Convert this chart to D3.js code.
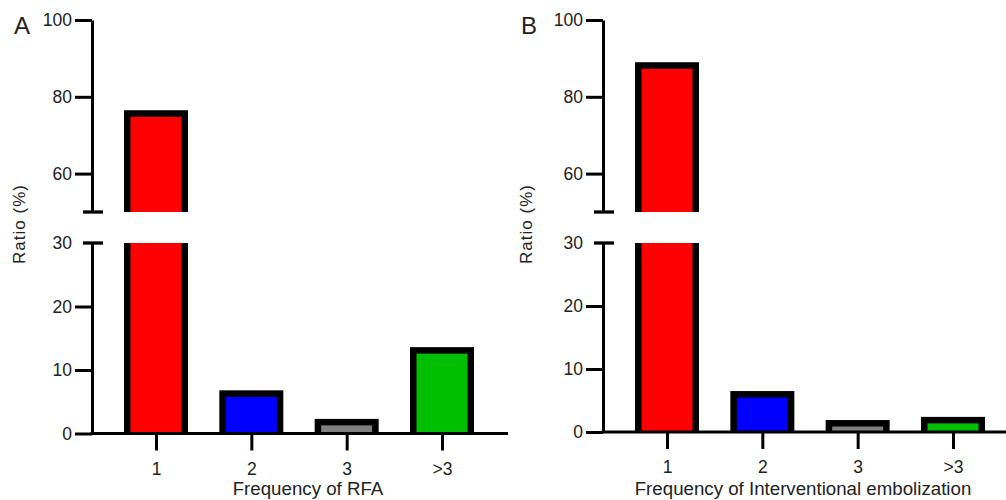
<!DOCTYPE html>
<html>
<head>
<meta charset="utf-8">
<script src="https://cdn.jsdelivr.net/npm/d3@7"></script>
<style>
  html, body { margin: 0; padding: 0; background: #fff; }
  svg { display: block; font-family: "Liberation Sans", Arial, Helvetica, sans-serif; }
</style>
</head>
<body>
<svg id="chart" width="1006" height="500"></svg>
<script>
// ---- data ----
const categories = ["1", "2", "3", ">3"];
const rfaValues = [76.5, 6.8, 2.3, 13.6];
const embolizationValues = [89.0, 6.5, 1.9, 2.4];
const upperTicks = [60, 80, 100];
const lowerTicks = [0, 10, 20, 30];
const barColors = ["#ff0000", "#0000ff", "#808080", "#00bf00"];
const panelLetters = ["A", "B"];
const xTitles = ["Frequency of RFA", "Frequency of Interventional embolization"];
const yTitle = "Ratio (%)";

// ---- layout ----
const svg = d3.select("#chart");
const layouts = [
  { ox: 92, base: 433.5, titleX: 216, letterX: 14, ratioX: 25 },
  { ox: 603, base: 432, titleX: 200, letterX: 521, ratioX: 532 }
];
const seriesList = [rfaValues, embolizationValues];
const barW = 64, sw = 6.5, axisW = 3;
const breakLow = 30, breakHigh = 50;

seriesList.forEach((values, p) => {
  const L = layouts[p];
  const g = svg.append("g").attr("transform", `translate(${L.ox},0)`);
  const yU = d3.scaleLinear().domain([breakHigh, 100]).range([212, 20]);
  const yL = d3.scaleLinear().domain([0, breakLow]).range([L.base, 243]);
  const x = d3.scalePoint().domain(categories).range([64, 350]);

  // bars
  values.forEach((v, i) => {
    const x0 = x(categories[i]) - barW / 2;
    const segs = v > breakLow
      ? [{ top: yU(v), bottom: yU(breakHigh), topReal: true },
         { top: yL(breakLow), bottom: L.base, topReal: false }]
      : [{ top: yL(v), bottom: L.base, topReal: true }];
    segs.forEach(s => {
      g.append("rect")
        .attr("x", x0).attr("y", s.top)
        .attr("width", barW).attr("height", s.bottom - s.top)
        .attr("fill", "#000");
      const it = s.top + (s.topReal ? sw : 0);
      g.append("rect")
        .attr("x", x0 + sw).attr("y", it)
        .attr("width", barW - 2 * sw).attr("height", Math.max(0, s.bottom - it))
        .attr("fill", barColors[i]);
    });
  });

  // y axes (upper + lower segments)
  const styleAxis = sel => {
    sel.selectAll("path.domain").attr("stroke", "#000").attr("stroke-width", axisW);
    sel.selectAll(".tick line").attr("stroke", "#000").attr("stroke-width", axisW);
    sel.selectAll(".tick text").attr("fill", "#222").style("font-size", "17.5px")
      .style("font-family", '"Liberation Sans", Arial, sans-serif');
  };
  g.append("g")
    .call(d3.axisLeft(yU).tickValues(upperTicks).tickSize(17).tickSizeOuter(0).tickPadding(3))
    .call(styleAxis);
  g.append("g")
    .call(d3.axisLeft(yL).tickValues(lowerTicks.filter(t => t < breakLow)).tickSize(17).tickSizeOuter(0).tickPadding(3))
    .call(styleAxis);
  // the 30 label (at the break cap)
  g.append("text")
    .attr("x", -20).attr("y", yL(breakLow)).attr("dy", "0.32em")
    .attr("text-anchor", "end").attr("fill", "#222").style("font-size", "17.5px")
    .text(breakLow);

  // break caps
  [yU(breakHigh), yL(breakLow)].forEach(yy => {
    g.append("line").attr("x1", -9).attr("x2", 11).attr("y1", yy).attr("y2", yy)
      .attr("stroke", "#000").attr("stroke-width", axisW + 0.3);
  });

  // x axis baseline
  g.append("line").attr("x1", -1.5).attr("x2", 416).attr("y1", L.base).attr("y2", L.base)
    .attr("stroke", "#000").attr("stroke-width", axisW);
  const xa = g.append("g").attr("transform", `translate(0,${L.base})`)
    .call(d3.axisBottom(x).tickSize(17).tickSizeOuter(0).tickPadding(12))
    .call(styleAxis);
  xa.select("path.domain").remove();

  // x title
  g.append("text")
    .attr("x", L.titleX).attr("y", 495)
    .attr("text-anchor", "middle").attr("fill", "#222").style("font-size", "18.7px")
    .text(xTitles[p]);

  // y title
  svg.append("text")
    .attr("transform", `translate(${L.ratioX},224) rotate(-90)`)
    .attr("text-anchor", "middle").attr("fill", "#222").style("font-size", "17px")
    .style("letter-spacing", "1px")
    .text(yTitle);

  // panel letter
  svg.append("text")
    .attr("x", L.letterX).attr("y", 34)
    .attr("fill", "#222").style("font-size", "24px")
    .text(panelLetters[p]);
});
</script>
</body>
</html>
